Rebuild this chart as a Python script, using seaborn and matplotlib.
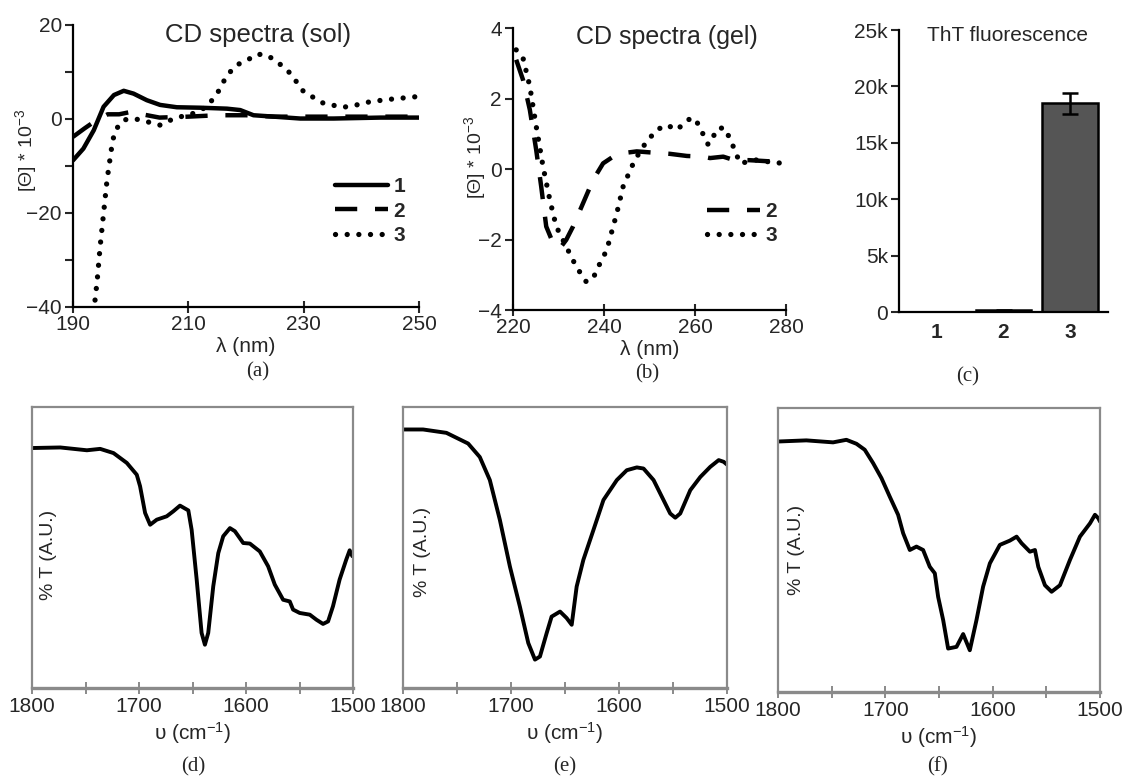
import numpy as np
import pandas as pd
import matplotlib
matplotlib.use("Agg")
import matplotlib.pyplot as plt
from matplotlib.ticker import MultipleLocator, FuncFormatter, FixedLocator
import seaborn as sns

# ---------------- data ----------------
# (a) CD spectra (sol)
sol1_wl = [190, 191.8, 193.6, 195.3, 197.1, 198.8, 200.5, 202.8, 205.1, 208.0, 212.1, 216.7, 219.0, 221.3, 224.8, 229.4, 235.2, 243.3, 250]
sol1_cd = [-8.8, -6.3, -2.4, 2.6, 5.1, 6.0, 5.4, 4.0, 3.0, 2.5, 2.4, 2.2, 1.9, 0.8, 0.5, 0.1, 0.1, 0.3, 0.3]
sol2_wl = [190, 192, 194, 196, 198, 200, 202, 205, 210, 215, 220, 225, 230, 240, 250]
sol2_cd = [-3.8, -2.0, -0.3, 1.0, 1.0, 1.5, 1.0, 0.3, 0.5, 0.8, 0.8, 0.5, 0.5, 0.5, 0.5]
sol3_wl = [193.6, 194.2, 194.7, 195.3, 195.9, 196.8, 197.3, 198.8, 200.5, 202.3, 205.1, 207.5, 210.9, 213.2, 215.0, 216.7, 218.4, 220.2, 221.9, 223.6, 225.4, 227.7, 230.0, 233.5, 236.9, 239.2, 241.6, 245, 250]
sol3_cd = [-41, -34.3, -27.2, -20.1, -13.0, -5.2, -2.4, -0.2, 0.1, -0.4, -1.3, 0.1, 1.2, 2.6, 5.4, 9.3, 11.5, 12.5, 13.8, 13.6, 12.2, 9.7, 5.8, 3.3, 2.5, 3.0, 3.7, 4.2, 4.8]

# (b) CD spectra (gel)
gel2_wl = [220.7, 222.2, 223.7, 225.1, 226.2, 227.3, 228.8, 230.3, 231.7, 233.2, 235.4, 237.6, 239.8, 242.0, 244.2, 247.2, 250.2, 254.5, 258.2, 261.8, 263.3, 266.2, 268.4, 272, 276, 280]
gel2_cd = [3.1, 2.53, 1.68, 0.54, -0.5, -1.63, -2.1, -2.25, -2.01, -1.63, -0.97, -0.31, 0.16, 0.35, 0.45, 0.5, 0.47, 0.43, 0.37, 0.35, 0.31, 0.35, 0.26, 0.25, 0.22, 0.22]
gel3_wl = [220.7, 222.2, 223.7, 225.1, 226.6, 228.1, 229.5, 231.7, 233.9, 236.1, 237.6, 239.1, 240.6, 242.8, 244.2, 246.1, 247.9, 249.4, 251.6, 253.8, 256.0, 258.5, 260.0, 261.5, 262.9, 264.0, 265.1, 266.6, 268.4, 269.9, 273.6, 277.3, 280]
gel3_cd = [3.38, 3.15, 2.34, 1.21, 0.07, -0.88, -1.63, -2.2, -2.77, -3.2, -3.1, -2.68, -2.3, -1.26, -0.5, 0.07, 0.5, 0.78, 1.11, 1.25, 1.11, 1.4, 1.44, 1.06, 0.69, 0.92, 1.16, 1.16, 0.64, 0.16, 0.26, 0.18, 0.16]

# (c) ThT fluorescence
tht_samples = ["1", "2", "3"]
tht_values = [0, 150, 18500]
tht_errors = [0, 60, 950]

# (d) FTIR 1
ir_d_wn = [1800, 1773.6, 1748.7, 1736.3, 1723.8, 1711.4, 1702.1, 1699, 1694.3, 1689.6, 1683.4, 1674.1, 1667.9, 1661.7, 1653.9, 1650.8, 1646.1, 1641.5, 1638.4, 1635.3, 1630.6, 1625.9, 1621.3, 1615.0, 1610.4, 1602.6, 1596.4, 1587.1, 1579.3, 1573.1, 1565.3, 1559.1, 1556.0, 1549.8, 1540.4, 1534.2, 1528.0, 1523.3, 1518.7, 1512.5, 1506.3, 1503.1, 1500.6]
ir_d_t = [85.4, 85.6, 84.6, 85.1, 83.6, 80.1, 75.9, 71.8, 62.3, 58.1, 59.9, 61.1, 62.9, 64.9, 63.2, 56.3, 38.6, 19.6, 15.4, 19.6, 36.2, 48.0, 54.0, 56.9, 55.8, 51.6, 51.4, 48.6, 43.3, 36.8, 31.4, 30.8, 27.9, 26.7, 26.1, 24.3, 22.8, 23.7, 29.1, 38.6, 45.7, 49.0, 46.9]

# (e) FTIR 2
ir_e_wn = [1800, 1781.4, 1759.8, 1739.7, 1728.9, 1719.6, 1710.3, 1701.0, 1691.8, 1684.0, 1677.8, 1673.2, 1667.0, 1662.4, 1654.6, 1648.5, 1643.8, 1639.2, 1633.0, 1623.7, 1614.4, 1602.0, 1592.8, 1583.5, 1577.3, 1568.0, 1558.8, 1552.6, 1547.9, 1543.3, 1534.0, 1524.7, 1515.5, 1507.7, 1503.1, 1500]
ir_e_t = [92.0, 92.0, 90.8, 87.0, 82.2, 74.0, 59.8, 43.2, 29.0, 16.0, 10.1, 11.2, 19.5, 25.4, 27.2, 24.9, 22.5, 36.1, 45.6, 56.2, 66.9, 74.0, 77.5, 78.5, 78.1, 74.0, 66.9, 62.1, 60.6, 62.1, 70.4, 75.1, 78.7, 81.1, 80.5, 79.5]

# (f) FTIR 3
ir_f_wn = [1800, 1773.6, 1748.7, 1736.3, 1726.9, 1719.2, 1711.4, 1703.6, 1695.9, 1688.1, 1683.4, 1677.2, 1671.0, 1664.8, 1658.6, 1653.9, 1650.8, 1646.1, 1641.5, 1633.7, 1627.5, 1621.3, 1615.1, 1608.9, 1602.6, 1593.3, 1584.0, 1577.7, 1573.1, 1565.3, 1560.6, 1557.5, 1551.3, 1545.1, 1537.3, 1528.0, 1518.7, 1509.3, 1504.7, 1501.6, 1500]
ir_f_t = [88.2, 88.6, 87.9, 88.8, 87.4, 85.3, 80.6, 75.3, 68.8, 62.4, 55.9, 50.0, 51.2, 50.0, 44.1, 41.8, 33.5, 25.3, 15.3, 15.9, 20.4, 14.7, 25.3, 37.1, 45.3, 51.8, 53.3, 54.7, 52.4, 49.4, 50.0, 44.1, 37.6, 35.3, 37.6, 46.5, 54.7, 59.4, 62.4, 61.2, 60.0]

# ---------------- style ----------------
sns.set_style("ticks")
plt.rcParams["font.family"] = ["Liberation Sans", "DejaVu Sans"]
plt.rcParams["mathtext.fontset"] = "custom"
plt.rcParams["mathtext.rm"] = "Liberation Sans"
plt.rcParams["mathtext.it"] = "Liberation Sans:italic"
plt.rcParams["mathtext.bf"] = "Liberation Sans:bold"
plt.rcParams["axes.unicode_minus"] = True

W, H = 1126, 778
fig = plt.figure(figsize=(W / 100, H / 100), dpi=100)
fig.patch.set_facecolor("white")


def add_axes_px(x0, y0, x1, y1):
    return fig.add_axes([x0 / W, 1 - y1 / H, (x1 - x0) / W, (y1 - y0) / H])


def fig_text_px(x, y, s, **kw):
    fig.text(x / W, 1 - y / H, s, ha="center", va="center", **kw)


FS = 15
SERIF = ["Liberation Serif", "DejaVu Serif"]
DASH = (0, (5, 4))
DOT = (0, (0.01, 2.2))


def style_cd_axes(ax):
    for s in ["top", "right"]:
        ax.spines[s].set_visible(False)
    for s in ["left", "bottom"]:
        ax.spines[s].set_linewidth(1.6)
        ax.spines[s].set_color("black")
    ax.tick_params(axis="y", direction="out", length=6, width=1.5, labelsize=FS, pad=2)
    ax.tick_params(axis="x", direction="inout", length=8, width=1.5, labelsize=FS, pad=2)


# ---------------- (a) ----------------
ax_a = add_axes_px(73, 25, 419, 307)
df = pd.DataFrame({"wl": sol3_wl, "cd": sol3_cd})
sns.lineplot(data=df, x="wl", y="cd", ax=ax_a, color="black", lw=3.8, linestyle=DOT,
             dash_capstyle="round", sort=False, label="3")
df = pd.DataFrame({"wl": sol2_wl, "cd": sol2_cd})
sns.lineplot(data=df, x="wl", y="cd", ax=ax_a, color="black", lw=3.2, linestyle=DASH,
             sort=False, label="2")
df = pd.DataFrame({"wl": sol1_wl, "cd": sol1_cd})
sns.lineplot(data=df, x="wl", y="cd", ax=ax_a, color="black", lw=3.2, linestyle="-",
             sort=False, label="1")
ax_a.set_xlim(190, 250)
ax_a.set_ylim(-40, 20)
ax_a.xaxis.set_major_locator(FixedLocator([190, 210, 230, 250]))
ax_a.yaxis.set_major_locator(MultipleLocator(10))
ax_a.yaxis.set_major_formatter(FuncFormatter(lambda v, p: f"{int(round(v))}".replace("-", "\u2212") if int(round(v)) % 20 == 0 else ""))
style_cd_axes(ax_a)
ax_a.set_xlabel("λ (nm)", fontsize=FS, labelpad=2)
ax_a.set_ylabel("[Θ] * 10$^{-3}$", fontsize=14)
ax_a.yaxis.set_label_coords(-0.099, 0.557)
ax_a.text(0.535, 0.965, "CD spectra (sol)", transform=ax_a.transAxes, ha="center", va="center", fontsize=18.5)
h, l = ax_a.get_legend_handles_labels()
order = [2, 1, 0]
ax_a.legend([h[i] for i in order], [l[i] for i in order], loc="center left",
            bbox_to_anchor=(0.757, 0.34), frameon=False, handlelength=2.55,
            handletextpad=0.25, labelspacing=0.25, borderaxespad=0, borderpad=0,
            prop={"weight": "bold", "size": FS})

# ---------------- (b) ----------------
ax_b = add_axes_px(513, 28, 786, 310)
df = pd.DataFrame({"wl": gel3_wl, "cd": gel3_cd})
sns.lineplot(data=df, x="wl", y="cd", ax=ax_b, color="black", lw=3.8, linestyle=DOT,
             dash_capstyle="round", sort=False, label="3")
df = pd.DataFrame({"wl": gel2_wl, "cd": gel2_cd})
sns.lineplot(data=df, x="wl", y="cd", ax=ax_b, color="black", lw=3.2, linestyle=DASH,
             sort=False, label="2")
ax_b.set_xlim(220, 280)
ax_b.set_ylim(-4, 4)
ax_b.xaxis.set_major_locator(FixedLocator([220, 240, 260, 280]))
ax_b.yaxis.set_major_locator(MultipleLocator(2))
style_cd_axes(ax_b)
ax_b.set_xlabel("λ (nm)", fontsize=FS, labelpad=2)
ax_b.set_ylabel("[Θ] * 10$^{-3}$", fontsize=14)
ax_b.yaxis.set_label_coords(-0.092, 0.543)
ax_b.text(0.564, 0.968, "CD spectra (gel)", transform=ax_b.transAxes, ha="center", va="center", fontsize=18)
h, l = ax_b.get_legend_handles_labels()
order = [1, 0]
ax_b.legend([h[i] for i in order], [l[i] for i in order], loc="center left",
            bbox_to_anchor=(0.711, 0.307), frameon=False, handlelength=2.55,
            handletextpad=0.25, labelspacing=0.25, borderaxespad=0, borderpad=0,
            prop={"weight": "bold", "size": FS})

# ---------------- (c) ----------------
ax_c = add_axes_px(899, 30, 1108, 312)
dfc = pd.DataFrame({"sample": tht_samples, "value": tht_values})
sns.barplot(data=dfc, x="sample", y="value", ax=ax_c, color="#555555", edgecolor="black",
            linewidth=1.8, width=0.84, saturation=1)
ax_c.errorbar(np.arange(len(tht_samples)), tht_values, yerr=tht_errors, fmt="none",
              ecolor="black", elinewidth=1.8, capsize=6, capthick=1.8)
ax_c.set_xlim(-0.57, 2.57)
ax_c.set_ylim(0, 25000)
ax_c.yaxis.set_major_locator(MultipleLocator(5000))
ax_c.yaxis.set_major_formatter(FuncFormatter(lambda v, p: "0" if v == 0 else f"{int(v/1000)}k"))
style_cd_axes(ax_c)
ax_c.tick_params(axis="x", length=0, pad=8)
for t in ax_c.get_xticklabels():
    t.set_fontweight("bold")
ax_c.set_xlabel("")
ax_c.set_ylabel("")
ax_c.text(0.517, 0.982, "ThT fluorescence", transform=ax_c.transAxes, ha="center", va="center", fontsize=15)

# ---------------- (d)(e)(f) ----------------
GRAY = "#8a8a8a"


def ir_panel(box, wn, t, ylab_pos):
    ax = add_axes_px(*box)
    df = pd.DataFrame({"wn": wn, "t": t})
    sns.lineplot(data=df, x="wn", y="t", ax=ax, color="black", lw=2.8, sort=False)
    ax.set_xlim(1800, 1500)
    ax.set_ylim(0, 100)
    for s in ax.spines.values():
        s.set_color(GRAY)
        s.set_linewidth(1.6)
        s.set_visible(True)
    ax.spines["bottom"].set_linewidth(2.4)
    ax.xaxis.set_major_locator(MultipleLocator(50))
    ax.xaxis.set_major_formatter(FuncFormatter(lambda v, p: f"{int(v)}" if int(round(v)) % 100 == 0 else ""))
    ax.tick_params(axis="x", direction="inout", length=9, width=1.4, color=GRAY, labelsize=FS, pad=2)
    ax.set_yticks([])
    ax.set_xlabel("υ (cm$^{-1}$)", fontsize=FS, labelpad=3)
    ax.set_ylabel("")
    ax.text(ylab_pos[0], ylab_pos[1], "% T (A.U.)", transform=ax.transAxes, rotation=90,
            ha="center", va="center", fontsize=14)
    return ax


ax_d = ir_panel((32, 407, 353, 688), ir_d_wn, ir_d_t, (0.05, 0.473))
ax_e = ir_panel((403, 407, 727, 688), ir_e_wn, ir_e_t, (0.059, 0.484))
ax_f = ir_panel((778, 408, 1100, 692), ir_f_wn, ir_f_t, (0.059, 0.5))

# ---------------- panel letters ----------------
for x, y, s in [(258, 372, "(a)"), (647, 374, "(b)"), (968, 377, "(c)"),
                (193, 767, "(d)"), (565, 767, "(e)"), (938, 767, "(f)")]:
    fig_text_px(x, y, s, fontsize=15, family=SERIF)

fig.savefig("out.png", dpi=100, facecolor="white")
